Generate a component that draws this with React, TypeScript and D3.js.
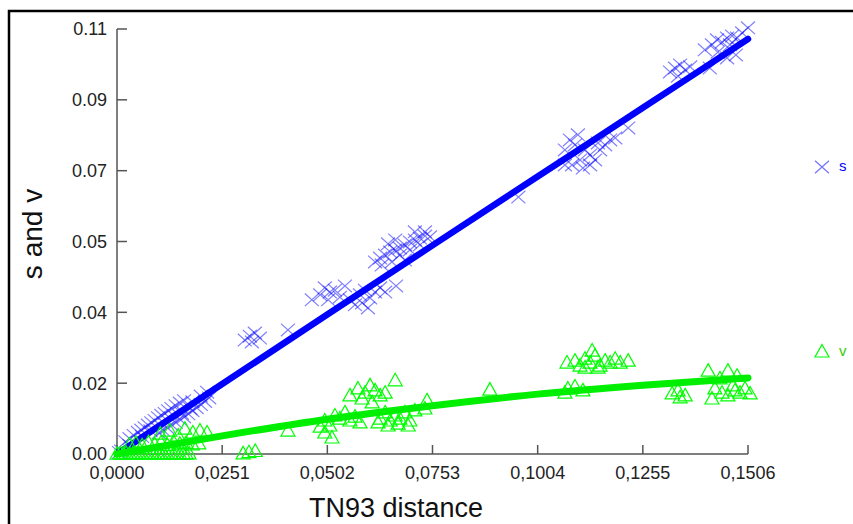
import React from "react";
import * as d3 from "d3";

// ---------- data ----------
const xTicks = [0, 0.0251, 0.0502, 0.0753, 0.1004, 0.1255, 0.1506];
const xTickLabels = ["0,0000", "0,0251", "0,0502", "0,0753", "0,1004", "0,1255", "0,1506"];
const yTicks = [0, 0.01833, 0.03667, 0.055, 0.07333, 0.09167, 0.11];
const yTickLabels = ["0.00", "0.02", "0.04", "0.05", "0.07", "0.09", "0.11"];

// fitted curves sampled at the x ticks
const sFit = [0, 0.0181, 0.0361, 0.054, 0.0718, 0.0896, 0.1074];
const vFit = [0, 0.0047, 0.009, 0.0125, 0.0155, 0.0178, 0.0197];

// s (transitions) observations [distance, s]
const sPoints: [number, number][] = [
  // near origin, on the line
  [0.0005, 0.0004], [0.001, 0.0008], [0.003, 0.0022], [0.006, 0.0045], [0.008, 0.006],
  [0.018, 0.0135], [0.02, 0.015], [0.0215, 0.016],
  // near origin, above line
  [0.002, 0.0032], [0.003, 0.004], [0.004, 0.0048], [0.005, 0.0056], [0.0058, 0.0062],
  [0.0066, 0.0068], [0.0074, 0.0075], [0.0082, 0.0081], [0.009, 0.0087], [0.0098, 0.0094],
  [0.0106, 0.01], [0.0114, 0.0105], [0.0122, 0.0112], [0.013, 0.0118], [0.014, 0.0125],
  [0.015, 0.0132], [0.016, 0.0138],
  // near origin, below line
  [0.01, 0.0055], [0.011, 0.0062], [0.012, 0.0068], [0.013, 0.0076], [0.014, 0.0082],
  [0.015, 0.009], [0.016, 0.0096], [0.017, 0.0104], [0.018, 0.0112], [0.019, 0.012],
  [0.02, 0.0128], [0.021, 0.0136], [0.022, 0.0145], [0.0155, 0.0105], [0.0175, 0.0118],
  // ~0.03
  [0.0305, 0.0295], [0.0317, 0.0305], [0.0329, 0.0313], [0.0341, 0.03], [0.0322, 0.029],
  [0.0408, 0.0321],
  // ~0.05
  [0.0485, 0.0412], [0.0496, 0.043], [0.0508, 0.0419], [0.052, 0.0424], [0.0532, 0.0406],
  [0.0504, 0.0399], [0.0544, 0.0435], [0.0465, 0.0399],
  [0.0556, 0.0399], [0.0568, 0.0386], [0.058, 0.0412], [0.0592, 0.0424], [0.0604, 0.0404],
  [0.0616, 0.0419], [0.0628, 0.043], [0.064, 0.0419], [0.0585, 0.0391], [0.0599, 0.0378],
  [0.0666, 0.0435],
  // ~0.065-0.075
  [0.0616, 0.0497], [0.0628, 0.0507], [0.064, 0.0515], [0.0652, 0.0523], [0.0664, 0.0528],
  [0.0675, 0.0533], [0.0687, 0.0541], [0.0699, 0.0549], [0.0711, 0.0554], [0.0723, 0.0559],
  [0.0735, 0.0564], [0.0747, 0.0562], [0.0675, 0.0515], [0.0699, 0.0528], [0.0723, 0.0541],
  [0.0656, 0.0497], [0.0687, 0.0502], [0.0632, 0.0489], [0.0664, 0.0554], [0.0711, 0.0575],
  [0.0735, 0.0575], [0.0647, 0.0544],
  [0.0958, 0.0665],
  // ~0.11
  [0.1069, 0.0787], [0.1081, 0.0813], [0.1093, 0.08], [0.1105, 0.0761], [0.1117, 0.0787],
  [0.1129, 0.0774], [0.1141, 0.0761], [0.1153, 0.0787], [0.1165, 0.08], [0.1177, 0.0813],
  [0.1189, 0.0818], [0.122, 0.0844], [0.1129, 0.0748], [0.1086, 0.0748], [0.1112, 0.074],
  [0.1148, 0.0805], [0.1069, 0.0748], [0.11, 0.0826],
  // ~0.134
  [0.132, 0.0989], [0.1332, 0.0999], [0.1344, 0.1007], [0.1356, 0.0994], [0.1368, 0.1002],
  [0.1339, 0.0978],
  // ~0.145
  [0.142, 0.1059], [0.1432, 0.1072], [0.1444, 0.1066], [0.1456, 0.1077], [0.1468, 0.1082],
  [0.148, 0.1077], [0.1492, 0.109], [0.1506, 0.1103], [0.1456, 0.1025], [0.1434, 0.104],
  [0.1477, 0.1033], [0.1403, 0.1046], [0.1415, 0.0999], [0.1463, 0.1059],
];

// v (transversions) observations [distance, v]
const vPoints: [number, number][] = [
  // bottom row near origin
  [0.0, 0.0002], [0.0008, 0.0003], [0.0015, 0.0002], [0.0022, 0.0004], [0.003, 0.0002],
  [0.0038, 0.0003], [0.0045, 0.0002], [0.0052, 0.0004], [0.006, 0.0002], [0.0068, 0.0003],
  [0.0075, 0.0002], [0.0083, 0.0004], [0.009, 0.0002], [0.0098, 0.0003], [0.0105, 0.0002],
  [0.0112, 0.0003], [0.012, 0.0002], [0.0128, 0.0004], [0.0135, 0.0002], [0.0142, 0.0003],
  [0.015, 0.0002], [0.0158, 0.0003], [0.0165, 0.0002], [0.0172, 0.0003],
  // second row
  [0.003, 0.0026], [0.0045, 0.003], [0.006, 0.0024], [0.0075, 0.0032], [0.009, 0.0027],
  [0.0105, 0.0031], [0.012, 0.0025], [0.0135, 0.0033], [0.015, 0.0028], [0.0165, 0.003],
  [0.018, 0.0026], [0.0195, 0.0029],
  // third row
  [0.0103, 0.0054], [0.0126, 0.0062], [0.0146, 0.0049], [0.0162, 0.0067], [0.0181, 0.0057],
  [0.0198, 0.0062], [0.0215, 0.0057],
  [0.0301, 0.0003], [0.0315, 0.0006], [0.033, 0.0009],
  [0.0408, 0.0062],
  // ~0.05
  [0.0496, 0.0088], [0.0508, 0.0075], [0.052, 0.0101], [0.0532, 0.0093], [0.0544, 0.0109],
  [0.0556, 0.0088], [0.0568, 0.0098], [0.058, 0.0083], [0.0496, 0.0057], [0.0513, 0.0044],
  [0.0485, 0.0072],
  [0.0556, 0.0153], [0.0575, 0.0171], [0.0592, 0.016], [0.0604, 0.0179], [0.0616, 0.0166],
  [0.0628, 0.0153], [0.064, 0.016], [0.0585, 0.0145], [0.0609, 0.0135], [0.0664, 0.0192],
  // ~0.065
  [0.0628, 0.0093], [0.064, 0.0109], [0.0652, 0.0088], [0.0664, 0.0101], [0.0675, 0.0093],
  [0.0687, 0.0109], [0.0699, 0.0088], [0.0711, 0.0114], [0.0647, 0.0075], [0.0671, 0.008],
  [0.0623, 0.0083], [0.0695, 0.0075], [0.074, 0.014], [0.0735, 0.0119],
  [0.089, 0.0168],
  // ~0.11
  [0.1074, 0.0238], [0.1093, 0.0243], [0.1105, 0.023], [0.1117, 0.0248], [0.1129, 0.0238],
  [0.1141, 0.0256], [0.1153, 0.023], [0.1165, 0.0243], [0.1177, 0.0238], [0.1189, 0.0248],
  [0.1201, 0.0238], [0.122, 0.0243], [0.1134, 0.0269], [0.1117, 0.0225], [0.1148, 0.0225],
  [0.1076, 0.0171], [0.1093, 0.0176], [0.1112, 0.0166], [0.1069, 0.016],
  // ~0.134
  [0.1325, 0.0158], [0.1339, 0.0166], [0.1356, 0.0153], [0.1344, 0.0148],
  // ~0.145
  [0.1411, 0.0217], [0.1439, 0.0197], [0.1458, 0.0217], [0.148, 0.0204],
  [0.1427, 0.0171], [0.1444, 0.016], [0.1458, 0.0153], [0.1475, 0.0166], [0.1487, 0.016],
  [0.1499, 0.0171], [0.147, 0.0179], [0.142, 0.0145], [0.1511, 0.0158],
];

// ---------- layout ----------
const W = 853;
const H = 524;
const font = "'Liberation Sans', Arial, sans-serif";
const x = d3.scaleLinear().domain([0, 0.1506]).range([117, 748]);
const y = d3.scaleLinear().domain([0, 0.11]).range([454, 29]);

const fitLine = (vals: number[]) =>
  d3
    .line<number>()
    .x((_, i) => x(xTicks[i]))
    .y((d) => y(d))
    .curve(d3.curveMonotoneX)(vals) as string;

const crossPath = (cx: number, cy: number, r = 7) =>
  `M${cx - r},${cy - r * 0.9}L${cx + r},${cy + r * 0.9}M${cx - r},${cy + r * 0.9}L${cx + r},${cy - r * 0.9}`;
const triPath = (cx: number, cy: number, r = 7) =>
  `M${cx},${cy - 6.5}L${cx + r},${cy + 6}L${cx - r},${cy + 6}Z`;

export default function App() {
  return (
    <svg
      width={W}
      height={H}
      style={{ position: "absolute", left: 0, top: 0, background: "#fff" }}
      fontFamily={font}
    >
      <rect width={W} height={H} fill="#fff" />
      {/* outer frame */}
      <path d={`M9,${H + 5}V11H${W + 5}`} fill="none" stroke="#000" strokeWidth={2.5} />

      {/* axes */}
      <line x1={x(0)} x2={x(0)} y1={y(0.11)} y2={y(0)} stroke="#555" strokeWidth={1.5} />
      <line x1={x(0)} x2={x(0.1506)} y1={y(0)} y2={y(0)} stroke="#555" strokeWidth={1.5} />
      {yTicks.map((t, i) => (
        <g key={"y" + i}>
          <line x1={x(0)} x2={x(0) + 10} y1={y(t)} y2={y(t)} stroke="#555" strokeWidth={1.5} />
          <text x={107} y={y(t)} dy="0.36em" textAnchor="end" fontSize={18} fill="#222">
            {yTickLabels[i]}
          </text>
        </g>
      ))}
      {xTicks.map((t, i) => (
        <g key={"x" + i}>
          <line x1={x(t)} x2={x(t)} y1={y(0)} y2={y(0) - 9} stroke="#555" strokeWidth={1.5} />
          <text x={x(t)} y={479} textAnchor="middle" fontSize={18} fill="#222">
            {xTickLabels[i]}
          </text>
        </g>
      ))}

      {/* axis titles */}
      <text x={396} y={517} textAnchor="middle" fontSize={27} fill="#111">
        TN93 distance
      </text>
      <text transform="translate(42,234) rotate(-90)" textAnchor="middle" fontSize={28} fill="#111">
        s and v
      </text>

      {/* s points */}
      <g fill="none" stroke="#0000ff" strokeOpacity={0.5} strokeWidth={1.2}>
        {sPoints.map((p, i) => (
          <path key={"s" + i} d={crossPath(x(p[0]), y(p[1]))} />
        ))}
      </g>
      <path d={fitLine(sFit)} fill="none" stroke="#0000ff" strokeWidth={6.5} strokeLinecap="round" />

      {/* v points */}
      <g fill="none" stroke="#00ff00" strokeWidth={1.2}>
        {vPoints.map((p, i) => (
          <path key={"v" + i} d={triPath(x(p[0]), y(p[1]))} />
        ))}
      </g>
      <path d={fitLine(vFit)} fill="none" stroke="#00ee00" strokeWidth={7} strokeLinecap="round" />

      {/* legend */}
      <path d={crossPath(822, 167)} fill="none" stroke="#0000ff" strokeOpacity={0.55} strokeWidth={1.2} />
      <text x={839} y={171} fontSize={15} fill="#0000ff">s</text>
      <path d={triPath(822, 351)} fill="none" stroke="#00ff00" strokeWidth={1.2} />
      <text x={839} y={356} fontSize={15} fill="#33cc00">v</text>
    </svg>
  );
}
